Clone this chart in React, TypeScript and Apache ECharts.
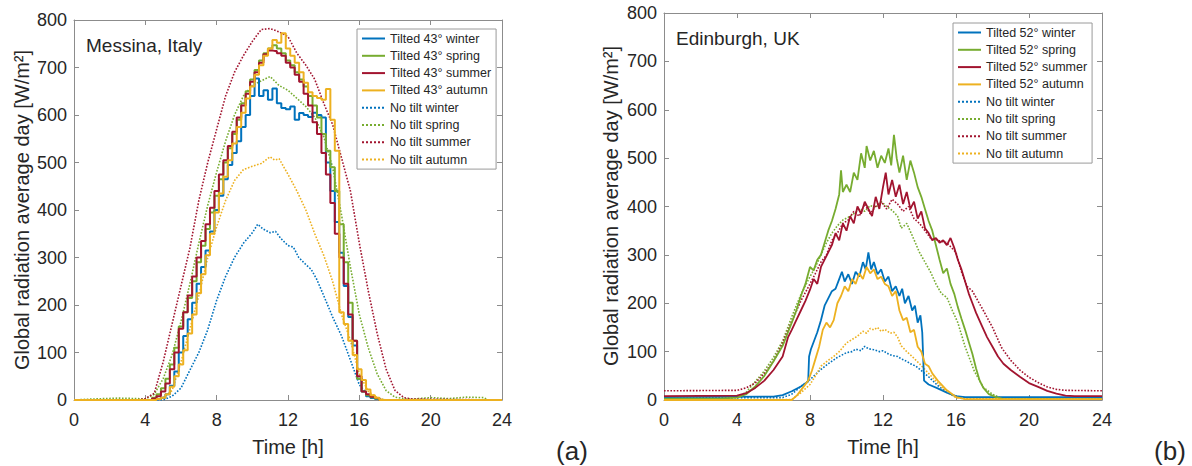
import React, { useEffect, useRef } from "react";
import * as echarts from "echarts";

// ---------------- DATA ----------------
const X_TICKS = { min: 0, max: 24, interval: 4 };
const Y_TICKS = { min: 0, max: 800, interval: 100 };

const NAMES_A = [
  "Tilted 43° winter", "Tilted 43° spring", "Tilted 43° summer", "Tilted 43° autumn",
  "No tilt winter", "No tilt spring", "No tilt summer", "No tilt autumn",
];
const NAMES_B = [
  "Tilted 52° winter", "Tilted 52° spring", "Tilted 52° summer", "Tilted 52° autumn",
  "No tilt winter", "No tilt spring", "No tilt summer", "No tilt autumn",
];

// Panel (a) Messina – tilted series sampled every 15 min
const HOURS_A = [0, 4.25, 4.5, 4.75, 5, 5.25, 5.5, 5.75, 6, 6.25, 6.5, 6.75, 7, 7.25, 7.5, 7.75, 8, 8.25, 8.5, 8.75,
  9, 9.25, 9.5, 9.75, 10, 10.25, 10.5, 10.75, 11, 11.25, 11.5, 11.75, 12, 12.25, 12.5, 12.75,
  13, 13.25, 13.5, 13.75, 14, 14.25, 14.5, 14.75, 15, 15.25, 15.5, 15.75, 16, 16.25, 16.5, 16.75, 17, 17.25, 24];
const A_TILT_WINTER = [0, 0, 0, 2, 5, 12, 30, 60, 100, 135, 170, 205,
  245, 280, 315, 355, 400, 430, 465, 495,
  520, 545, 575, 600, 640, 677, 640, 652,
  632, 656, 625, 615, 612, 618, 590, 604,
  600, 596, 605, 600, 595, 500, 440, 375,
  310, 240, 175, 115, 45, 18, 8, 4, 2, 0, 0];
const A_TILT_SPRING = [0, 0, 5, 12, 25, 45, 75, 110, 155, 185, 215, 250,
  290, 325, 360, 395, 430, 465, 500, 530,
  560, 590, 625, 650, 675, 695, 715, 730,
  740, 747, 740, 730, 715, 705, 690, 675,
  660, 640, 620, 595, 560, 525, 490, 440,
  370, 290, 205, 125, 45, 18, 10, 6, 3, 0, 0];
const A_TILT_SUMMER = [0, 0, 3, 8, 18, 35, 65, 100, 150, 185, 220, 260,
  300, 335, 370, 405, 440, 475, 505, 535,
  565, 595, 620, 645, 670, 690, 710, 728,
  736, 735, 730, 725, 710, 700, 685, 670,
  645, 620, 585, 560, 520, 475, 415, 350,
  300, 245, 180, 125, 50, 18, 12, 7, 4, 0, 0];
const A_TILT_AUTUMN = [0, 0, 0, 2, 5, 12, 28, 50, 75, 105, 140, 180,
  225, 265, 305, 350, 395, 435, 470, 505,
  540, 575, 605, 635, 660, 685, 705, 725,
  740, 758, 752, 772, 740, 725, 710, 690,
  668, 648, 640, 636, 632, 655, 590, 525,
  185, 160, 125, 95, 65, 42, 22, 10, 5, 0, 0];

// Panel (a) – no tilt series [hour, W/m2]
const A_NOTILT_WINTER = [[0, 0], [5, 0], [5.5, 8], [6, 25], [6.5, 63], [7, 100], [7.5, 148], [8, 210], [8.5, 260],
  [9, 300], [9.5, 330], [10, 352], [10.3, 370], [10.6, 360], [11, 352], [11.3, 355], [11.6, 340], [12, 325],
  [12.3, 322], [12.6, 300], [13, 285], [13.3, 275], [13.6, 255], [14, 220], [14.5, 175], [15, 135], [15.5, 84],
  [16, 32], [16.5, 10], [17, 2], [17.5, 0], [24, 0]];
const A_NOTILT_SPRING = [[0, 0], [1, 2], [2.5, 4], [3.5, 3], [4, 2], [4.5, 12], [5, 45], [5.5, 95], [6, 165], [6.5, 245],
  [7, 330], [7.5, 410], [8, 480], [8.5, 545], [9, 600], [9.5, 640], [10, 662], [10.5, 672], [11, 681],
  [11.5, 662], [12, 652], [12.5, 635], [13, 618], [13.5, 595], [14, 555], [14.5, 490], [15, 390],
  [15.5, 280], [16, 180], [16.5, 110], [17, 55], [17.5, 20], [18, 6], [18.5, 3], [19, 2], [20, 5],
  [21, 3], [22, 6], [23, 5], [23.2, 0], [24, 0]];
const A_NOTILT_SUMMER = [[0, 0], [3.5, 0], [4, 3], [4.5, 14], [5, 80], [5.5, 160], [6, 240], [6.5, 320], [7, 420],
  [7.5, 500], [8, 570], [8.5, 640], [9, 690], [9.5, 725], [10, 755], [10.5, 780], [11, 782], [11.5, 775],
  [12, 765], [12.5, 730], [13, 705], [13.5, 675], [14, 625], [14.5, 580], [15, 510], [15.5, 440],
  [16, 330], [16.5, 230], [17, 140], [17.5, 65], [18, 20], [18.5, 5], [19, 2], [24, 0]];
const A_NOTILT_AUTUMN = [[0, 0], [4.5, 0], [5, 5], [5.5, 20], [6, 80], [6.5, 150], [7, 220], [7.5, 300], [8, 365],
  [8.5, 420], [9, 462], [9.5, 485], [10, 492], [10.5, 498], [11, 512], [11.25, 505], [11.5, 508], [12, 475],
  [12.5, 440], [13, 400], [13.5, 350], [14, 305], [14.5, 250], [15, 180], [15.5, 125], [16, 55],
  [16.5, 18], [17, 5], [17.5, 0], [24, 0]];

// Panel (b) Edinburgh [hour, W/m2]
const B_TILT_WINTER = [[0, 6], [6, 7], [6.5, 10], [7, 18], [7.5, 28], [7.9, 38], [7.95, 90], [8.05, 105], [8.2, 120],
  [8.4, 140], [8.6, 165], [8.8, 195], [9, 210], [9.2, 225], [9.4, 230], [9.6, 250], [9.75, 265], [9.9, 245],
  [10.1, 260], [10.3, 240], [10.5, 265], [10.7, 255], [10.9, 285], [11.05, 270], [11.2, 305], [11.35, 270],
  [11.5, 285], [11.7, 260], [11.9, 270], [12.1, 245], [12.3, 255], [12.5, 225], [12.7, 235], [12.9, 215],
  [13.05, 230], [13.2, 200], [13.4, 215], [13.6, 185], [13.75, 195], [13.9, 160], [14.05, 175], [14.15, 140],
  [14.25, 40], [14.5, 32], [15, 24], [15.5, 15], [16, 8], [16.5, 6], [24, 6]];
const B_TILT_SPRING = [[0, 3], [3, 3], [4, 5], [4.5, 12], [5, 28], [5.5, 50], [6, 80], [6.5, 112], [7, 160],
  [7.25, 185], [7.5, 215], [7.75, 240], [8, 275], [8.2, 268], [8.4, 290], [8.6, 300], [8.8, 325], [9, 350],
  [9.2, 370], [9.4, 395], [9.6, 425], [9.7, 475], [9.8, 430], [10, 445], [10.2, 430], [10.4, 470],
  [10.6, 455], [10.8, 510], [11, 480], [11.1, 525], [11.3, 495], [11.5, 515], [11.7, 480], [11.9, 505],
  [12.1, 490], [12.3, 520], [12.45, 485], [12.6, 548], [12.75, 500], [12.9, 470], [13.1, 505], [13.3, 455],
  [13.5, 495], [13.7, 470], [13.9, 440], [14.1, 420], [14.3, 395], [14.5, 370], [14.7, 350], [14.9, 320],
  [15.1, 290], [15.3, 262], [15.5, 272], [15.7, 240], [15.9, 220], [16.1, 192], [16.3, 168], [16.5, 145],
  [16.7, 120], [16.9, 95], [17.1, 65], [17.3, 40], [17.5, 25], [17.8, 12], [18.2, 6], [18.6, 2], [24, 2]];
const B_TILT_SUMMER = [[0, 8], [4, 9], [4.5, 14], [5, 25], [5.5, 40], [6, 62], [6.5, 90], [6.8, 130], [7, 145],
  [7.25, 165], [7.5, 185], [7.75, 205], [8, 228], [8.2, 250], [8.4, 240], [8.6, 275], [8.8, 290], [9, 305],
  [9.2, 320], [9.4, 345], [9.6, 330], [9.8, 365], [10, 350], [10.2, 380], [10.4, 365], [10.6, 400],
  [10.8, 385], [11, 410], [11.2, 395], [11.4, 380], [11.6, 420], [11.8, 395], [12, 440], [12.15, 470],
  [12.3, 425], [12.5, 455], [12.7, 420], [12.9, 445], [13.1, 405], [13.3, 430], [13.5, 395], [13.7, 410],
  [13.9, 375], [14.1, 390], [14.3, 355], [14.5, 345], [14.7, 330], [14.9, 335], [15.1, 325], [15.3, 330],
  [15.5, 320], [15.7, 335], [15.9, 315], [16.1, 290], [16.3, 270], [16.5, 245], [16.7, 220], [16.9, 200],
  [17.1, 180], [17.4, 155], [17.7, 130], [18, 110], [18.3, 90], [18.6, 75], [19, 62], [19.5, 48], [20, 35],
  [20.5, 27], [21, 19], [21.5, 13], [22, 9], [22.5, 8], [24, 8]];
const B_TILT_AUTUMN = [[0, 0], [7, 0], [7.3, 10], [7.6, 25], [7.9, 40], [8.1, 60], [8.3, 85], [8.5, 110],
  [8.7, 145], [8.9, 160], [9.1, 150], [9.3, 165], [9.5, 200], [9.7, 215], [9.9, 235], [10.1, 225],
  [10.3, 250], [10.5, 240], [10.7, 262], [10.9, 250], [11.1, 275], [11.3, 262], [11.5, 270], [11.7, 250],
  [11.9, 255], [12.1, 240], [12.3, 235], [12.5, 215], [12.7, 225], [12.9, 185], [13.1, 165], [13.3, 170],
  [13.5, 140], [13.7, 145], [13.9, 110], [14.1, 100], [14.3, 75], [14.5, 70], [14.7, 55], [15, 40],
  [15.5, 20], [16, 6], [16.5, 2], [24, 2]];
const B_NOTILT_WINTER = [[0, 4], [6.5, 5], [7, 12], [7.5, 28], [8, 42], [8.5, 60], [9, 75], [9.5, 88], [10, 98],
  [10.3, 100], [10.5, 105], [10.8, 102], [11, 111], [11.2, 106], [11.5, 104], [11.8, 100], [12, 102],
  [12.3, 95], [12.5, 92], [12.8, 90], [13, 85], [13.3, 80], [13.5, 75], [13.8, 70], [14, 64], [14.5, 48],
  [15, 30], [15.5, 16], [16, 7], [16.5, 4], [24, 4]];
const B_NOTILT_SPRING = [[0, 2], [3.5, 3], [4, 6], [4.5, 16], [5, 38], [5.5, 60], [6, 88], [6.5, 122], [7, 172],
  [7.5, 218], [8, 255], [8.3, 275], [8.6, 300], [8.9, 325], [9.2, 345], [9.5, 360], [9.8, 372], [10.1, 378],
  [10.4, 385], [10.7, 395], [11, 390], [11.3, 402], [11.6, 398], [11.9, 410], [12.2, 400], [12.5, 392],
  [12.8, 380], [13, 355], [13.3, 365], [13.6, 340], [14, 305], [14.3, 285], [14.6, 265], [14.9, 240],
  [15.2, 220], [15.5, 212], [15.8, 185], [16.1, 160], [16.5, 110], [17, 60], [17.5, 26], [18, 12],
  [18.5, 3], [24, 2]];
const B_NOTILT_SUMMER = [[0, 19], [4, 20], [4.5, 25], [5, 35], [5.5, 55], [6, 80], [6.5, 118], [7, 162], [7.5, 205],
  [8, 240], [8.3, 262], [8.6, 285], [8.9, 300], [9.2, 330], [9.5, 345], [9.8, 365], [10.1, 372], [10.4, 390],
  [10.7, 380], [11, 405], [11.3, 385], [11.6, 400], [11.9, 410], [12.2, 395], [12.5, 415], [12.8, 405],
  [13.1, 390], [13.4, 400], [13.7, 375], [14, 365], [14.3, 350], [14.6, 335], [15, 330], [15.5, 325],
  [16, 305], [16.3, 265], [16.6, 235], [16.9, 225], [17.2, 205], [17.5, 185], [18, 150], [18.5, 108],
  [19, 82], [19.5, 62], [20, 47], [20.5, 36], [21, 27], [21.5, 22], [22, 20], [24, 19]];
const B_NOTILT_AUTUMN = [[0, 0], [7, 1], [7.5, 15], [8, 32], [8.3, 50], [8.6, 70], [9, 82], [9.3, 90], [9.6, 100],
  [10, 118], [10.3, 125], [10.6, 132], [10.9, 142], [11.1, 138], [11.3, 148], [11.5, 145], [11.7, 150],
  [11.9, 142], [12.1, 146], [12.4, 138], [12.6, 140], [12.8, 130], [13, 112], [13.3, 100], [13.6, 90],
  [14, 75], [14.5, 55], [15, 35], [15.5, 16], [16, 5], [16.5, 2], [24, 2]];

// ---------------- STYLE ----------------
const COLORS = ["#0072BD", "#77AC30", "#A2142F", "#EDB120"];
const FONT = "'Liberation Sans', Arial, Helvetica, sans-serif";
const FRAME = "#8c8c8c";
const TXT = "#262626";

function zip(h: number[], v: number[]) {
  return h.map((x, i) => [x, v[i]]);
}

export default function App() {
  const ref = useRef<HTMLDivElement>(null);
  useEffect(() => {
    document.body.style.margin = "0";
    const chart = echarts.init(ref.current!, null, { renderer: "svg" });

    const grids = [
      { left: 74, top: 20, width: 428, height: 380 },
      { left: 664, top: 13, width: 438, height: 387 },
    ];
    const axisBase = {
      type: "value" as const,
      axisLine: { show: true, onZero: false, lineStyle: { color: FRAME, width: 1 } },
      axisTick: { show: true, inside: true, length: 5, lineStyle: { color: FRAME } },
      splitLine: { show: false },
    };
    const xAxis: any[] = [];
    const yAxis: any[] = [];
    [0, 1].forEach((g) => {
      xAxis.push({ ...axisBase, ...X_TICKS, gridIndex: g, position: "bottom",
        axisLabel: { color: TXT, fontSize: 18, margin: 11, fontFamily: FONT } });
      xAxis.push({ ...axisBase, ...X_TICKS, gridIndex: g, position: "top", axisLabel: { show: false } });
      yAxis.push({ ...axisBase, ...Y_TICKS, gridIndex: g, position: "left",
        axisLabel: { color: TXT, fontSize: 18, margin: 7, fontFamily: FONT } });
      yAxis.push({ ...axisBase, ...Y_TICKS, gridIndex: g, position: "right", axisLabel: { show: false } });
    });

    const mk = (name: string, data: any, panel: number, ci: number, dotted: boolean, step?: any) => ({
      type: "line",
      name,
      data,
      xAxisIndex: panel * 2,
      yAxisIndex: panel * 2,
      symbol: "none",
      showSymbol: false,
      step: step || false,
      clip: true,
      lineStyle: { color: COLORS[ci], width: dotted ? 1.6 : (panel === 0 ? 2 : 1.8), type: dotted ? "dotted" : "solid" },
      itemStyle: { color: COLORS[ci] },
      emphasis: { disabled: true },
    });

    const series = [
      mk(NAMES_A[4], A_NOTILT_WINTER, 0, 0, true),
      mk(NAMES_A[5], A_NOTILT_SPRING, 0, 1, true),
      mk(NAMES_A[6], A_NOTILT_SUMMER, 0, 2, true),
      mk(NAMES_A[7], A_NOTILT_AUTUMN, 0, 3, true),
      mk(NAMES_A[0], zip(HOURS_A, A_TILT_WINTER), 0, 0, false, "middle"),
      mk(NAMES_A[1], zip(HOURS_A, A_TILT_SPRING), 0, 1, false, "middle"),
      mk(NAMES_A[2], zip(HOURS_A, A_TILT_SUMMER), 0, 2, false, "middle"),
      mk(NAMES_A[3], zip(HOURS_A, A_TILT_AUTUMN), 0, 3, false, "middle"),
      mk(NAMES_B[4], B_NOTILT_WINTER, 1, 0, true),
      mk(NAMES_B[5], B_NOTILT_SPRING, 1, 1, true),
      mk(NAMES_B[6], B_NOTILT_SUMMER, 1, 2, true),
      mk(NAMES_B[7], B_NOTILT_AUTUMN, 1, 3, true),
      mk(NAMES_B[0], B_TILT_WINTER, 1, 0, false),
      mk(NAMES_B[1], B_TILT_SPRING, 1, 1, false),
      mk(NAMES_B[2], B_TILT_SUMMER, 1, 2, false),
      mk(NAMES_B[3], B_TILT_AUTUMN, 1, 3, false),
    ];

    const legendBase = {
      orient: "vertical",
      itemWidth: 23,
      itemHeight: 2,
      itemGap: 4.3,
      padding: [3, 5, 3, 4],
      borderColor: "#9a9a9a",
      borderWidth: 1,
      backgroundColor: "#ffffff",
      selectedMode: false,
      itemStyle: { opacity: 0, borderWidth: 0 },
      textStyle: { fontSize: 12.5, color: TXT, fontFamily: FONT },
    };

    const txt = (text: string, x: number, y: number, size: number, rot = 0, align = "center") => ({
      type: "text",
      x,
      y,
      rotation: rot,
      z: 100,
      style: {
        text,
        fill: TXT,
        font: `${size}px ${FONT}`,
        fontSize: size,
        fontFamily: FONT,
        align,
        verticalAlign: "middle",
        textAlign: align,
        textVerticalAlign: "middle",
      },
    });

    chart.setOption({
      animation: false,
      backgroundColor: "#ffffff",
      grid: grids,
      xAxis,
      yAxis,
      legend: [
        { ...legendBase, data: NAMES_A, left: 357, top: 29 },
        { ...legendBase, data: NAMES_B, left: 953, top: 23 },
      ],
      series,
      graphic: [
        txt("Messina, Italy", 86, 45, 19, 0, "left"),
        txt("Edinburgh, UK", 676, 38, 19, 0, "left"),
        txt("Global radiation average day [W/m²]", 22, 210, 20, Math.PI / 2),
        txt("Global radiation average day [W/m²]", 611, 206, 20, Math.PI / 2),
        txt("Time [h]", 288, 447, 20),
        txt("Time [h]", 883, 447, 20),
        txt("(a)", 572, 451, 26),
        txt("(b)", 1170, 451, 26),
      ],
    });
    return () => chart.dispose();
  }, []);
  return <div ref={ref} style={{ width: 1192, height: 466 }} />;
}
